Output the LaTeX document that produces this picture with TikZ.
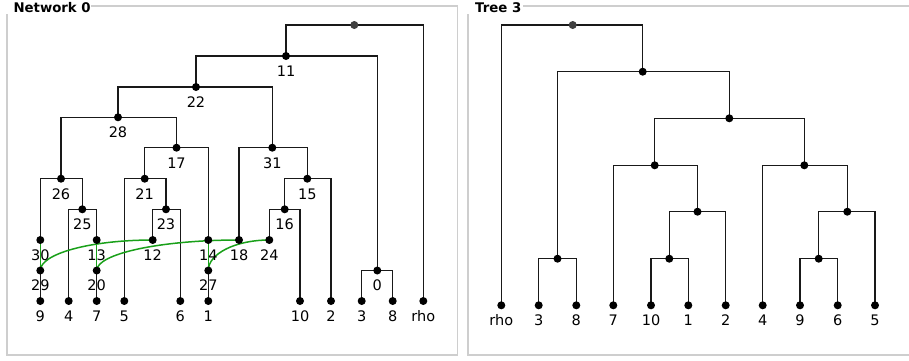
\documentclass[tikz,border=0pt]{standalone}
\usepackage{fontspec}
\setmainfont{DejaVu Sans}
\usetikzlibrary{calc}
\pgfdeclarelayer{bg}
\pgfsetlayers{bg,main}
\definecolor{retgreen}{RGB}{25,160,25}
\definecolor{framegray}{RGB}{206,206,206}
\begin{document}
\begin{tikzpicture}[x=1pt,y=-1pt,
  dot/.style={circle,fill=black,inner sep=0pt,minimum size=8pt},
  rootdot/.style={dot,fill=black!75},
  lbl/.style={font=\fontsize{14.5}{14.5}\selectfont,inner sep=0pt,text height=10.5pt,text depth=0pt,yshift=-5.5pt},
  every label/.style={lbl},
  edg/.style={line width=1.5pt,black!90},
  ret/.style={line width=1.5pt,retgreen},
  frame/.style={line width=1.6pt,framegray},
  ttl/.style={font=\fontsize{13.3}{13.3}\selectfont\bfseries,anchor=base west,inner sep=0pt}]
\useasboundingbox (0,0) rectangle (909,360);
% frames
\draw[frame] (7,6) rectangle (457.3,355);
\draw[frame] (909,6) -- (467.7,6) -- (467.7,355) -- (909,355);
\fill[white] (5,-1) rectangle (91,14);
\node[ttl] (t1title) at (13.3,12.5) {Network 0};
\fill[white] (465,-1) rectangle (523,14);
\node[ttl] (t2title) at (475,12.5) {Tree 3};

% ---------- Network 0 ----------
\node[rootdot] (r0) at (354.3,25) {};
\node[dot,label=below:11] (n11) at (286,56) {};
\node[dot,label=below:22] (n22) at (196,87) {};
\node[dot,label=below:28] (n28) at (118,117.3) {};
\node[dot,label=below:17] (n17) at (176.5,147.7) {};
\node[dot,label=below:31] (n31) at (272.3,147.7) {};
\node[dot,label=below:26] (n26) at (61,178.7) {};
\node[dot,label=below:21] (n21) at (144.7,178.7) {};
\node[dot,label=below:15] (n15) at (307.3,178.7) {};
\node[dot,label=below:25] (n25) at (82.3,209.3) {};
\node[dot,label=below:23] (n23) at (166,209.3) {};
\node[dot,label=below:16] (n16) at (284.7,209.3) {};
\node[dot,label=below:30] (n30) at (40.3,240) {};
\node[dot,label=below:13] (n13) at (96.7,240) {};
\node[dot,label=below:12] (n12) at (152.7,240) {};
\node[dot,label=below:14] (n14) at (208.3,240) {};
\node[dot,label=below:18] (n18) at (239,240) {};
\node[dot,label=below:24] (n24) at (269.3,240) {};
\node[dot,label=below:29] (n29) at (40.3,270.5) {};
\node[dot,label=below:20] (n20) at (96.7,270.5) {};
\node[dot,label=below:27] (n27) at (208.3,270.5) {};
\node[dot,label=below:0] (n0) at (377.3,270.5) {};
\node[dot,label=below:9] (l9) at (40.3,301) {};
\node[dot,label=below:4] (l4) at (68.7,301) {};
\node[dot,label=below:7] (l7) at (96.7,301) {};
\node[dot,label=below:5] (l5) at (124.3,301) {};
\node[dot,label=below:6] (l6) at (180.3,301) {};
\node[dot,label=below:1] (l1) at (208.3,301) {};
\node[dot,label=below:10] (l10) at (300,301) {};
\node[dot,label=below:2] (l2) at (331,301) {};
\node[dot,label=below:3] (l3) at (361.7,301) {};
\node[dot,label=below:8] (l8) at (392.7,301) {};
\node[dot,label=below:rho] (lrho) at (423.3,301) {};

\begin{pgfonlayer}{bg}
\draw[edg] (n11.center) |- (r0.center) -| (lrho.center);
\draw[edg] (n22.center) |- (n11.center) -| (n0.center);
\draw[edg] (n28.center) |- (n22.center) -| (n31.center);
\draw[edg] (n26.center) |- (n28.center) -| (n17.center);
\draw[edg] (n21.center) |- (n17.center) -| (n14.center);
\draw[edg] (n30.center) |- (n26.center) -| (n25.center);
\draw[edg] (l4.center) |- (n25.center) -| (n13.center);
\draw[edg] (l5.center) |- (n21.center) -| (n23.center);
\draw[edg] (n12.center) |- (n23.center) -| (l6.center);
\draw[edg] (n18.center) |- (n31.center) -| (n15.center);
\draw[edg] (n16.center) |- (n15.center) -| (l2.center);
\draw[edg] (n24.center) |- (n16.center) -| (l10.center);
\draw[edg] (l3.center) |- (n0.center) -| (l8.center);
\draw[edg] (n29.center) -- (l9.center);
\draw[edg] (n20.center) -- (l7.center);
\draw[edg] (n27.center) -- (l1.center);
\draw[ret] (n30.center) -- (n29.center);
\draw[ret] (n13.center) -- (n20.center);
\draw[ret] (n14.center) -- (n27.center);
\draw[ret] (n12.center) .. controls ($(n12.center)!0.5523!(n12.center -| n29.center)$) and ($(n29.center)!0.5523!(n12.center -| n29.center)$) .. (n29.center);
\draw[ret] (n18.center) .. controls ($(n18.center)!0.5523!(n18.center -| n20.center)$) and ($(n20.center)!0.5523!(n18.center -| n20.center)$) .. (n20.center);
\draw[ret] (n24.center) .. controls ($(n24.center)!0.5523!(n24.center -| n27.center)$) and ($(n27.center)!0.5523!(n24.center -| n27.center)$) .. (n27.center);
\end{pgfonlayer}

% ---------- Tree 3 ----------
\node[rootdot] (t0) at (572.7,25) {};
\node[dot] (tA) at (642.7,71.7) {};
\node[dot] (tC) at (729.3,118.3) {};
\node[dot] (tD) at (654.7,165.3) {};
\node[dot] (tE) at (804.3,165.3) {};
\node[dot] (tF) at (697.5,211.7) {};
\node[dot] (tG) at (847.3,211.7) {};
\node[dot] (tB) at (557.5,258.7) {};
\node[dot] (tH) at (669.3,258.7) {};
\node[dot] (tI) at (818.7,258.7) {};
\node[dot,label=below:rho] (trho) at (501.3,305.3) {};
\node[dot,label=below:3] (t3) at (538.7,305.3) {};
\node[dot,label=below:8] (t8) at (576.3,305.3) {};
\node[dot,label=below:7] (t7) at (613.3,305.3) {};
\node[dot,label=below:10] (t10) at (651,305.3) {};
\node[dot,label=below:1] (t1) at (688.3,305.3) {};
\node[dot,label=below:2] (t2) at (725.7,305.3) {};
\node[dot,label=below:4] (t4) at (762.7,305.3) {};
\node[dot,label=below:9] (t9) at (800,305.3) {};
\node[dot,label=below:6] (t6) at (837.7,305.3) {};
\node[dot,label=below:5] (t5) at (875,305.3) {};

\begin{pgfonlayer}{bg}
\draw[edg] (trho.center) |- (t0.center) -| (tA.center);
\draw[edg] (tB.center) |- (tA.center) -| (tC.center);
\draw[edg] (tD.center) |- (tC.center) -| (tE.center);
\draw[edg] (t7.center) |- (tD.center) -| (tF.center);
\draw[edg] (t4.center) |- (tE.center) -| (tG.center);
\draw[edg] (tH.center) |- (tF.center) -| (t2.center);
\draw[edg] (t10.center) |- (tH.center) -| (t1.center);
\draw[edg] (t3.center) |- (tB.center) -| (t8.center);
\draw[edg] (tI.center) |- (tG.center) -| (t5.center);
\draw[edg] (t9.center) |- (tI.center) -| (t6.center);
\end{pgfonlayer}
\end{tikzpicture}
\end{document}
